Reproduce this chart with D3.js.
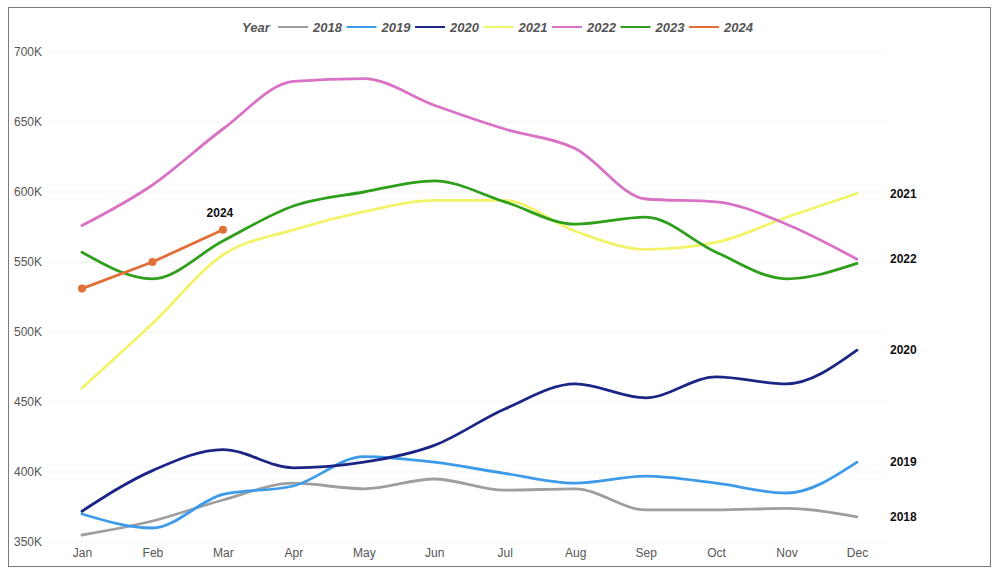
<!DOCTYPE html>
<html>
<head>
<meta charset="utf-8">
<script src="https://cdn.jsdelivr.net/npm/d3@7"></script>
<style>
  body { margin: 0; background: #fff; font-family: "Liberation Sans", Arial, sans-serif; }
  #frame { position: absolute; left: 8px; top: 7px; width: 983px; height: 560px; border: 1.5px solid #7a7a7a; box-sizing: border-box; }
</style>
</head>
<body>
<div id="frame"></div>
<svg id="chart" width="1000" height="581" style="position:absolute;left:0;top:0"></svg>
<script>
const months = ['Jan', 'Feb', 'Mar', 'Apr', 'May', 'Jun', 'Jul', 'Aug', 'Sep', 'Oct', 'Nov', 'Dec'];
const years = ['2018', '2019', '2020', '2021', '2022', '2023', '2024'];
const yTicks = [350000, 400000, 450000, 500000, 550000, 600000, 650000, 700000];

// values in thousands
const v2018 = [355, 365, 380, 392, 388, 395, 387, 388, 373, 373, 374, 368];
const v2019 = [370, 360, 384, 390, 411, 407, 399, 392, 397, 392, 385, 407];
const v2020 = [372, 401, 416, 403, 407, 419, 445, 463, 453, 468, 463, 487];
const v2021 = [460, 506, 555, 573, 586, 594, 594, 572, 559, 564, 582, 599];
const v2022 = [576, 605, 645, 679, 681, 662, 645, 631, 595, 593, 577, 552];
const v2023 = [557, 538, 565, 590, 600, 608, 593, 577, 582, 557, 538, 549];
const v2024 = [531, 550, 573];

const seriesValues = [v2018, v2019, v2020, v2021, v2022, v2023, v2024];
const colors = ['#9e9e9e', '#3d9be9', '#1b2585', '#f3f36a', '#d972c4', '#2e9f1a', '#e07038'];
const endLabelYears = ['2018', '2019', '2020', '2021', '2022'];

const series = years.map((y, i) => ({
  year: y,
  color: colors[i],
  points: seriesValues[i].map((v, j) => ({ month: months[j], value: v * 1000 }))
}));

const svg = d3.select('#chart');

const x = d3.scalePoint()
  .domain(months)
  .range([82, 857]);

const y = d3.scaleLinear()
  .domain([350000, 700000])
  .range([542, 52]);

// grid
svg.append('g')
  .selectAll('line')
  .data(yTicks)
  .enter()
  .append('line')
  .attr('x1', 50)
  .attr('x2', 884)
  .attr('y1', d => y(d))
  .attr('y2', d => y(d))
  .attr('stroke', '#d4d4d4')
  .attr('stroke-width', 1)
  .attr('stroke-dasharray', '1,3');

// y axis
const yAxis = svg.append('g')
  .attr('transform', 'translate(42,0)')
  .call(d3.axisLeft(y).tickValues(yTicks).tickSize(0).tickPadding(0).tickFormat(d => (d / 1000) + 'K'));
yAxis.select('.domain').remove();
yAxis.selectAll('text')
  .attr('fill', '#555')
  .style('font-size', '12px')
  .style('font-family', '"Liberation Sans", Arial, sans-serif');

// x axis
const xAxis = svg.append('g')
  .attr('transform', 'translate(0,548)')
  .call(d3.axisBottom(x).tickSize(0).tickPadding(0));
xAxis.select('.domain').remove();
xAxis.selectAll('text')
  .attr('fill', '#555')
  .attr('dy', '0.71em')
  .style('font-size', '12px')
  .style('font-family', '"Liberation Sans", Arial, sans-serif');

// lines
const smooth = d3.line()
  .x(d => x(d.month))
  .y(d => y(d.value))
  .curve(d3.curveMonotoneX);

const straight = d3.line()
  .x(d => x(d.month))
  .y(d => y(d.value));

svg.append('g')
  .selectAll('path')
  .data(series)
  .enter()
  .append('path')
  .attr('fill', 'none')
  .attr('stroke', d => d.color)
  .attr('stroke-width', 2.8)
  .attr('stroke-linejoin', 'round')
  .attr('stroke-linecap', 'round')
  .attr('d', d => d.year === '2024' ? straight(d.points) : smooth(d.points));

// 2024 markers
const s2024 = series.find(s => s.year === '2024');
svg.append('g')
  .selectAll('circle')
  .data(s2024.points)
  .enter()
  .append('circle')
  .attr('cx', d => x(d.month))
  .attr('cy', d => y(d.value))
  .attr('r', 4)
  .attr('fill', s2024.color);

const last2024 = s2024.points[s2024.points.length - 1];
svg.append('text')
  .attr('x', x(last2024.month) - 3)
  .attr('y', y(last2024.value) - 13)
  .attr('text-anchor', 'middle')
  .attr('font-size', '12px')
  .attr('font-weight', 'bold')
  .attr('fill', '#111')
  .text('2024');

// end labels
svg.append('g')
  .selectAll('text')
  .data(series.filter(s => endLabelYears.includes(s.year)))
  .enter()
  .append('text')
  .attr('x', 890)
  .attr('y', d => y(d.points[d.points.length - 1].value))
  .attr('dy', '0.35em')
  .attr('font-size', '12px')
  .attr('font-weight', 'bold')
  .attr('fill', '#111')
  .text(d => d.year);

// legend
const legend = svg.append('g')
  .attr('transform', 'translate(242,27)')
  .style('font-family', '"Liberation Sans", Arial, sans-serif');

legend.append('text')
  .attr('x', 0)
  .attr('dy', '0.35em')
  .attr('font-size', '13px')
  .attr('font-weight', 'bold')
  .attr('font-style', 'italic')
  .attr('fill', '#555')
  .text('Year');

series.forEach((s, i) => {
  const row = legend.append('g')
    .attr('transform', `translate(${36 + i * 68.5},0)`);
  row.append('line')
    .attr('x1', 0)
    .attr('x2', 30)
    .attr('stroke', s.color)
    .attr('stroke-width', 2);
  row.append('text')
    .attr('x', 35)
    .attr('dy', '0.35em')
    .attr('font-size', '13px')
    .attr('font-weight', 'bold')
    .attr('font-style', 'italic')
    .attr('fill', '#555')
    .text(s.year);
});
</script>
</body>
</html>
